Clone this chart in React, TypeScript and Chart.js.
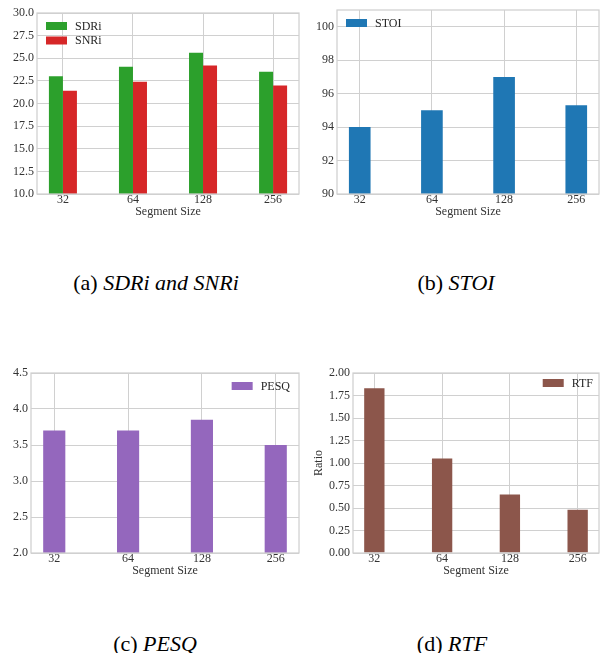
import React, { useEffect, useRef } from "react";
import { Chart, registerables } from "chart.js";

Chart.register(...registerables);

// ---------- data ----------
const segmentSizes = ["32", "64", "128", "256"];
const sdriValues = [23.0, 24.05, 25.6, 23.5];
const snriValues = [21.4, 22.4, 24.2, 22.0];
const stoiValues = [94.0, 95.0, 97.0, 95.3];
const pesqValues = [3.7, 3.7, 3.85, 3.5];
const rtfValues = [1.83, 1.05, 0.65, 0.48];

const sdrTicks = [10, 12.5, 15, 17.5, 20, 22.5, 25, 27.5, 30];
const stoiTicks = [90, 92, 94, 96, 98, 100];
const pesqTicks = [2, 2.5, 3, 3.5, 4, 4.5];
const rtfTicks = [0, 0.25, 0.5, 0.75, 1, 1.25, 1.5, 1.75, 2];

const xTitle = "Segment Size";
const rtfYTitle = "Ratio";

const captions = [
  { tag: "(a)", name: "SDRi and SNRi" },
  { tag: "(b)", name: "STOI" },
  { tag: "(c)", name: "PESQ" },
  { tag: "(d)", name: "RTF" },
];

// ---------- style ----------
const GRID = "#d0d0d0";
const TEXT = "#333333";
const SERIF = "'Liberation Serif', 'Times New Roman', Tinos, serif";
const FONT = { family: SERIF, size: 12, lineHeight: 1.0 };

type SeriesSpec = { label: string; values: number[]; color: string };
type PanelSpec = {
  left: number;
  top: number;
  width: number;
  height: number;
  padLeft: number;
  padTop: number;
  padRight: number;
  padBottom: number;
  yWidth: number;
  series: SeriesSpec[];
  yMin: number;
  yMax: number;
  yTicks: number[];
  decimals: number;
  xPad: number;
  groupFrac: number;
  legendAlign: "left" | "right";
  legendMargin: number;
  yTitle?: string;
};

const panels: PanelSpec[] = [
  {
    left: 0, top: 0, width: 303, height: 230,
    padLeft: 0, padTop: 13, padRight: 4, padBottom: 11, yWidth: 37,
    series: [
      { label: "SDRi", values: sdriValues, color: "#2ca02c" },
      { label: "SNRi", values: snriValues, color: "#d62728" },
    ],
    yMin: 10, yMax: 30, yTicks: sdrTicks, decimals: 1,
    xPad: 0.37, groupFrac: 0.4, legendAlign: "left", legendMargin: 9,
  },
  {
    left: 303, top: 0, width: 303, height: 230,
    padLeft: 0, padTop: 10, padRight: 7, padBottom: 11, yWidth: 34,
    series: [{ label: "STOI", values: stoiValues, color: "#1f77b4" }],
    yMin: 90, yMax: 101, yTicks: stoiTicks, decimals: 0,
    xPad: 0.315, groupFrac: 0.3, legendAlign: "left", legendMargin: 9,
  },
  {
    left: 0, top: 360, width: 303, height: 230,
    padLeft: 0, padTop: 13, padRight: 4, padBottom: 12, yWidth: 31,
    series: [{ label: "PESQ", values: pesqValues, color: "#9467bd" }],
    yMin: 2, yMax: 4.5, yTicks: pesqTicks, decimals: 1,
    xPad: 0.315, groupFrac: 0.3, legendAlign: "right", legendMargin: 9,
  },
  {
    left: 303, top: 360, width: 303, height: 230,
    padLeft: 10, padTop: 13, padRight: 7, padBottom: 12, yWidth: 40,
    series: [{ label: "RTF", values: rtfValues, color: "#8c564b" }],
    yMin: 0, yMax: 2, yTicks: rtfTicks, decimals: 2,
    xPad: 0.315, groupFrac: 0.3, legendAlign: "right", legendMargin: 6,
    yTitle: rtfYTitle,
  },
];

// ---------- plugins ----------
const framePlugin = {
  id: "frame",
  afterDatasetsDraw(chart: any) {
    const { ctx, chartArea } = chart;
    ctx.save();
    ctx.strokeStyle = GRID;
    ctx.lineWidth = 1.25;
    ctx.strokeRect(chartArea.left, chartArea.top, chartArea.right - chartArea.left, chartArea.bottom - chartArea.top);
    ctx.restore();
  },
};

const innerLegend = {
  id: "innerLegend",
  afterDraw(chart: any, _args: any, opts: any) {
    const { ctx, chartArea } = chart;
    const items = chart.data.datasets.map((ds: any) => ({ label: ds.label, color: ds.backgroundColor }));
    ctx.save();
    ctx.font = "12px " + SERIF;
    ctx.textBaseline = "middle";
    ctx.textAlign = "left";
    const patchW = 21, patchH = 8, gap = 8, rowH = 14.5;
    const maxText = Math.max(...items.map((i: any) => ctx.measureText(i.label).width));
    const boxW = patchW + gap + maxText;
    const x0 = opts.align === "right" ? chartArea.right - opts.margin - boxW : chartArea.left + opts.margin;
    items.forEach((it: any, k: number) => {
      const cy = chartArea.top + opts.margin + patchH / 2 + k * rowH;
      ctx.fillStyle = it.color;
      ctx.fillRect(x0, cy - patchH / 2, patchW, patchH);
      ctx.fillStyle = "#262626";
      ctx.fillText(it.label, x0 + patchW + gap, cy + 0.5);
    });
    ctx.restore();
  },
};

function Panel({ spec }: { spec: PanelSpec }) {
  const ref = useRef<HTMLCanvasElement | null>(null);
  useEffect(() => {
    if (!ref.current) return;
    const chart = new Chart(ref.current, {
      type: "bar",
      data: {
        datasets: spec.series.map((s) => ({
          label: s.label,
          data: s.values.map((v, i) => ({ x: i, y: v })),
          backgroundColor: s.color,
          borderWidth: 0,
          categoryPercentage: spec.groupFrac,
          barPercentage: 1,
        })),
      },
      options: {
        animation: false,
        responsive: false,
        events: [],
        layout: {
          padding: { left: spec.padLeft, top: spec.padTop, right: spec.padRight, bottom: spec.padBottom },
        },
        plugins: {
          legend: { display: false },
          tooltip: { enabled: false },
          innerLegend: { align: spec.legendAlign, margin: spec.legendMargin },
        } as any,
        scales: {
          x: {
            type: "linear",
            min: -spec.xPad,
            max: segmentSizes.length - 1 + spec.xPad,
            offset: false,
            afterBuildTicks: (s: any) => {
              s.ticks = segmentSizes.map((_, i) => ({ value: i }));
            },
            afterFit: (s: any) => {
              s.height = 25;
            },
            ticks: {
              callback: (_v: any, i: number) => segmentSizes[i],
              padding: 0,
              autoSkip: false,
              maxRotation: 0,
              color: TEXT,
              font: FONT,
            },
            grid: { color: GRID, drawTicks: false, offset: false, lineWidth: 1 },
            border: { display: false },
            title: { display: true, text: xTitle, padding: { top: 0, bottom: 1 }, color: TEXT, font: FONT },
          },
          y: {
            type: "linear",
            min: spec.yMin,
            max: spec.yMax,
            afterBuildTicks: (s: any) => {
              s.ticks = spec.yTicks.map((v) => ({ value: v }));
            },
            afterFit: (s: any) => {
              s.width = spec.yWidth;
            },
            ticks: {
              callback: (v: any) => Number(v).toFixed(spec.decimals),
              padding: 3,
              color: TEXT,
              font: FONT,
            },
            grid: { color: GRID, drawTicks: false, lineWidth: 1 },
            border: { display: false },
            title: spec.yTitle
              ? { display: true, text: spec.yTitle, padding: 0, color: TEXT, font: FONT }
              : { display: false },
          },
        } as any,
      },
      plugins: [framePlugin, innerLegend],
    } as any);
    return () => chart.destroy();
  }, [spec]);
  return (
    <canvas
      ref={ref}
      width={spec.width}
      height={spec.height}
      style={{ position: "absolute", left: spec.left, top: spec.top, width: spec.width, height: spec.height }}
    />
  );
}

const captionPos = [
  { cx: 156, top: 271 },
  { cx: 456, top: 271 },
  { cx: 155, top: 632 },
  { cx: 452, top: 632 },
];

export default function App() {
  return (
    <div style={{ position: "absolute", left: 0, top: 0, width: 606, height: 653, background: "#fff", overflow: "hidden" }}>
      {panels.map((p, i) => (
        <Panel key={i} spec={p} />
      ))}
      {captions.map((c, i) => (
        <div
          key={"c" + i}
          style={{
            position: "absolute",
            left: captionPos[i].cx - 150,
            top: captionPos[i].top,
            width: 300,
            textAlign: "center",
            fontFamily: SERIF,
            fontSize: 22,
            lineHeight: "24px",
            color: "#000",
            whiteSpace: "nowrap",
          }}
        >
          {c.tag} <i>{c.name}</i>
        </div>
      ))}
    </div>
  );
}
